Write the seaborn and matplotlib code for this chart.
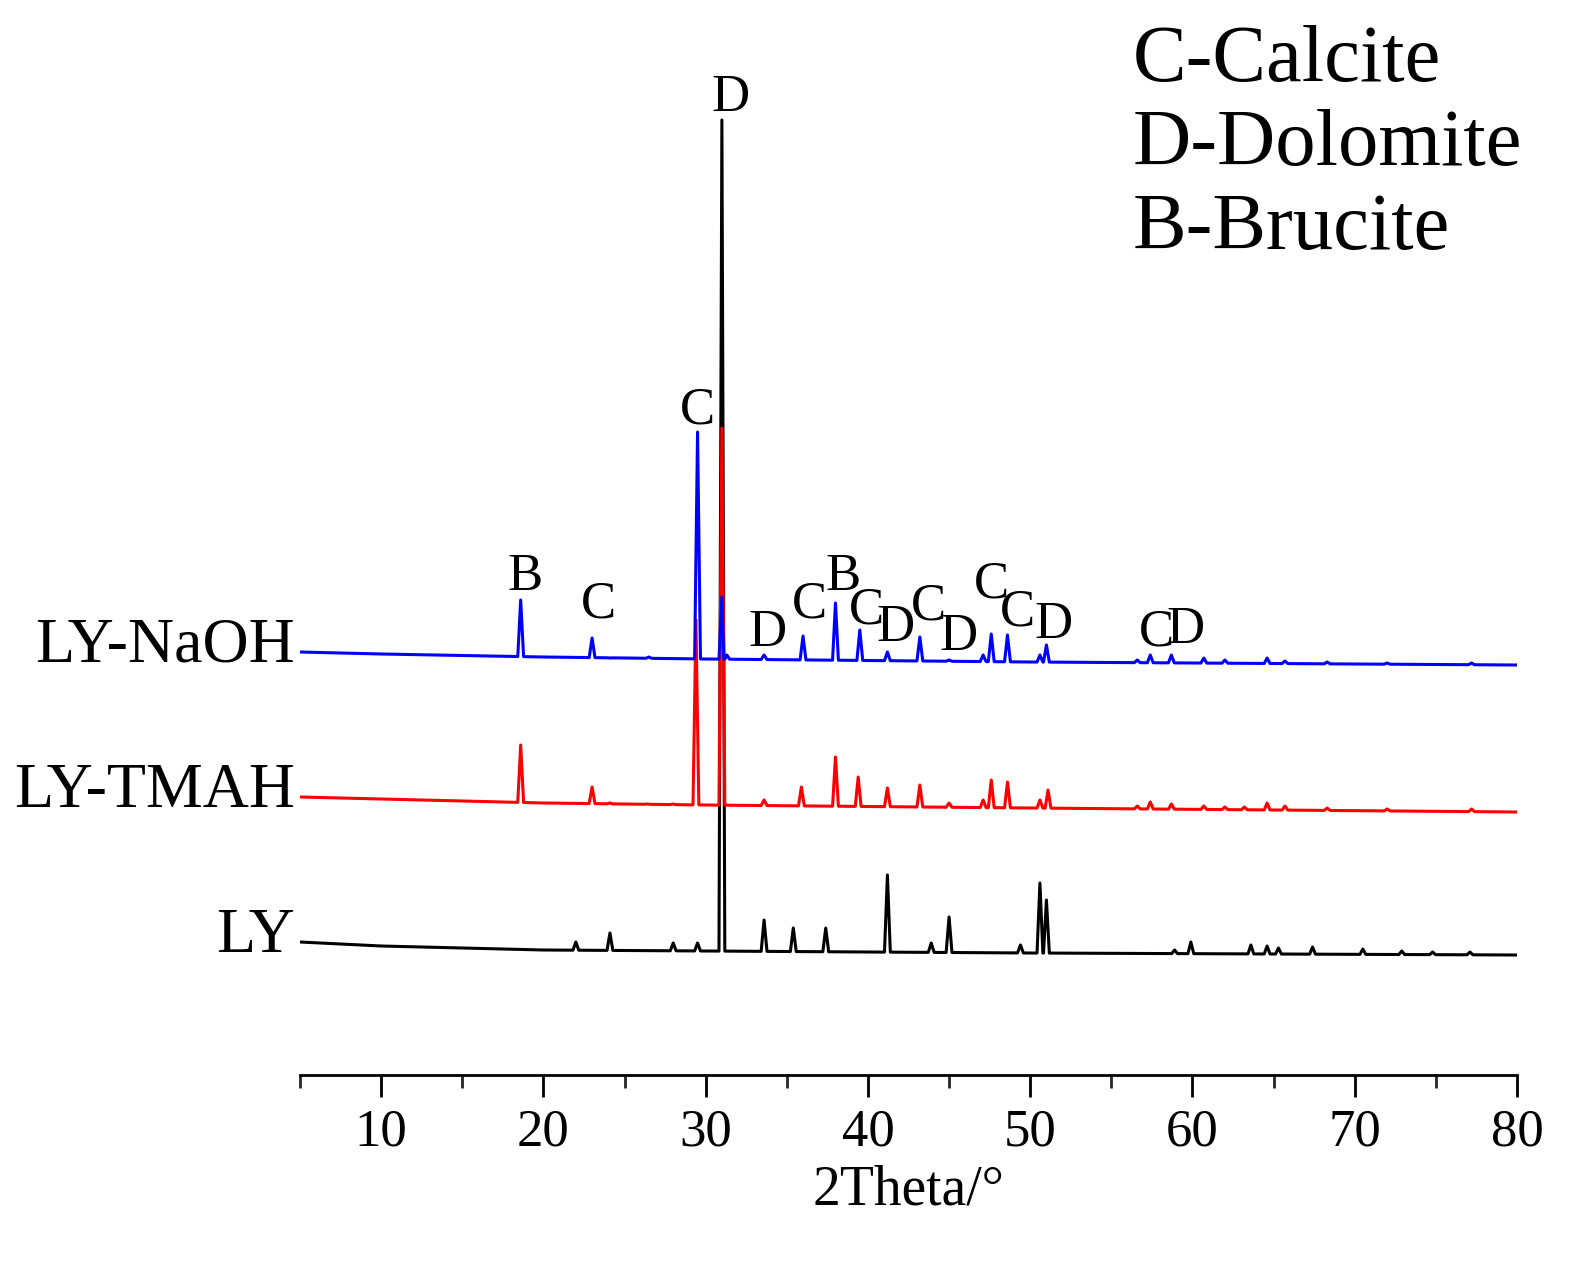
import numpy as np
import matplotlib
matplotlib.use("Agg")
import matplotlib.pyplot as plt
import seaborn as sns
import pandas as pd

# values (y in arbitrary intensity units)
ly_base_x = [5, 10, 20, 30, 50, 80]
ly_base_y = [133, 129, 125, 124, 122, 120]
ly_peak_x = [22.0, 24.1, 28.0, 29.5, 31.0, 33.6, 35.4, 37.4, 41.2, 43.9, 45.0, 49.4, 50.6, 51.0,
             58.9, 59.9, 63.6, 64.6, 65.3, 67.4, 70.5, 72.9, 74.8, 77.1]
ly_peak_y = [133, 142, 132, 132, 955, 155, 147, 147, 200, 132, 158, 130, 192, 175,
             125, 133, 130, 129, 127, 128, 126, 124, 123, 123]

tm_base_x = [5, 10, 20, 30, 50, 80]
tm_base_y = [278, 276, 272, 270, 267, 263]
tm_peak_x = [18.6, 23.0, 24.1, 26.4, 28.0, 29.4, 31.0, 33.6, 35.9, 38.0, 39.4, 41.2, 43.2, 45.0,
             47.1, 47.6, 48.6, 50.6, 51.1, 56.6, 57.4, 58.7, 60.7, 62.0, 63.2, 64.6, 65.7, 68.3,
             72.0, 77.2]
tm_peak_y = [330, 288, 272, 271, 271, 455, 647, 275, 288, 318, 298, 287, 290, 272,
             275, 295, 293, 275, 285, 269, 273, 271, 269, 268, 268, 272, 269, 267,
             266, 266]

na_base_x = [5, 10, 20, 30, 50, 80]
na_base_y = [423, 421, 418, 416, 413, 410]
na_peak_x = [18.6, 23.0, 24.1, 26.5, 29.5, 31.0, 31.3, 33.6, 36.0, 38.0, 39.5, 41.2, 43.2, 45.0,
             47.1, 47.6, 48.6, 50.6, 51.0, 56.6, 57.4, 58.7, 60.7, 62.0, 64.6, 65.7, 68.3,
             72.0, 77.2]
na_peak_y = [475, 437, 417, 418, 643, 478, 420, 420, 439, 472, 445, 423, 438, 415,
             420, 441, 440, 420, 430, 415, 420, 420, 417, 415, 417, 414, 413,
             412, 412]

series_names = ["LY", "LY-TMAH", "LY-NaOH"]
series_colors = ["black", "#ff0000", "#0000ff"]

peak_labels = ["D", "C", "B", "C", "D", "C", "B", "C", "D", "C", "D", "C", "C", "D", "C", "D"]
label_x = [31.5, 29.5, 18.9, 23.4, 33.8, 36.4, 38.45, 39.9, 41.7, 43.7, 45.6, 47.6, 49.2, 51.45, 57.8, 59.6]
label_y = [977, 665, 498, 470, 442, 470, 498, 465, 447, 468, 438, 490, 462, 450, 442, 445]


def build_curve(bx, by, px, py, w=0.18):
    xs = list(bx)
    ys = list(by)
    for x, y in zip(px, py):
        for dx, yy in [(-w, None), (0, y), (w, None)]:
            xs.append(x + dx)
            ys.append(np.nan if yy is None else yy)
    df = pd.DataFrame({"x": xs, "y": ys}).sort_values("x")
    base = np.interp(df["x"], bx, by)
    df["y"] = df["y"].fillna(pd.Series(base, index=df.index))
    return df


sns.set_theme(style="white")
plt.rcParams["font.family"] = ["Liberation Serif", "DejaVu Serif"]
plt.rcParams["text.color"] = "black"

fig = plt.figure(figsize=(15.92, 12.72), dpi=100)
ax = fig.add_axes([300 / 1592, 1 - 1075 / 1272, 1217 / 1592, 1055 / 1272])

curves = [
    build_curve(ly_base_x, ly_base_y, ly_peak_x, ly_peak_y),
    build_curve(tm_base_x, tm_base_y, tm_peak_x, tm_peak_y),
    build_curve(na_base_x, na_base_y, na_peak_x, na_peak_y),
]
for df, c in zip(curves, series_colors):
    sns.lineplot(data=df, x="x", y="y", color=c, lw=2.2, ax=ax, sort=False)

# series labels
for name, df in zip(series_names, curves):
    ax.text(4.7, df["y"].iloc[0] + 5, name, ha="right", va="center", fontsize=46, clip_on=False)

for t, x, y in zip(peak_labels, label_x, label_y):
    ax.text(x, y, t, ha="center", va="center", fontsize=38)

ax.text(56.3, 1050, "C-Calcite\nD-Dolomite\nB-Brucite", ha="left", va="top",
        fontsize=58, linespacing=1.2)

ax.set_xlim(5, 80)
ax.set_ylim(0, 1055)
ax.set_yticks([])
for s in ["top", "right", "left"]:
    ax.spines[s].set_visible(False)
ax.spines["bottom"].set_linewidth(2)
ax.spines["bottom"].set_color("black")
ax.set_xticks(range(10, 81, 10))
ax.set_xticks(range(5, 81, 10), minor=True)
ax.tick_params(axis="x", which="major", direction="out", length=16, width=2, labelsize=38,
               bottom=True, colors="black", pad=8)
ax.tick_params(axis="x", which="minor", direction="out", length=9, width=2, bottom=True)
ax.set_xlabel("2Theta/°", fontsize=40, labelpad=6, color="black")
ax.set_ylabel("")

fig.savefig("out.png", dpi=100)
